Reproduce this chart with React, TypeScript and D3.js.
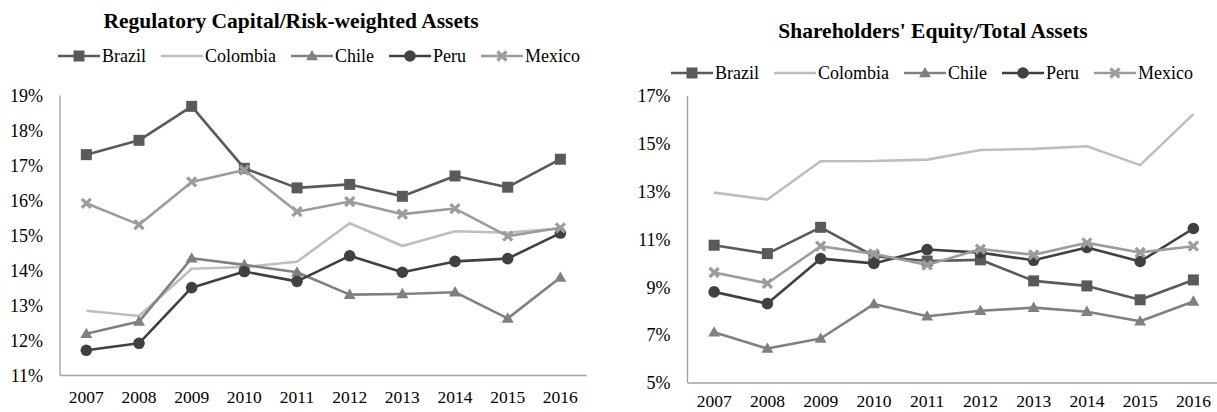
import * as d3 from "d3";
import { useEffect, useRef } from "react";

const years = ["2007", "2008", "2009", "2010", "2011", "2012", "2013", "2014", "2015", "2016"];
const countries = ["Brazil", "Colombia", "Chile", "Peru", "Mexico"];

// Regulatory Capital / Risk-weighted Assets (%)
const capBrazil = [17.31, 17.72, 18.69, 16.92, 16.36, 16.46, 16.12, 16.7, 16.38, 17.18];
const capColombia = [12.85, 12.7, 14.05, 14.1, 14.25, 15.35, 14.7, 15.12, 15.08, 15.2];
const capChile = [12.19, 12.54, 14.35, 14.16, 13.95, 13.31, 13.33, 13.38, 12.63, 13.8];
const capPeru = [11.72, 11.92, 13.51, 13.97, 13.69, 14.42, 13.95, 14.26, 14.34, 15.07];
const capMexico = [15.92, 15.31, 16.53, 16.87, 15.68, 15.97, 15.61, 15.77, 14.98, 15.22];
const capTicks = [11, 12, 13, 14, 15, 16, 17, 18, 19];

// Shareholders' Equity / Total Assets (%)
const eqBrazil = [10.76, 10.41, 11.51, 10.3, 10.1, 10.15, 9.27, 9.06, 8.48, 9.31];
const eqColombia = [12.96, 12.67, 14.27, 14.28, 14.34, 14.74, 14.79, 14.9, 14.11, 16.24];
const eqChile = [7.12, 6.44, 6.86, 8.3, 7.79, 8.02, 8.15, 7.98, 7.58, 8.41];
const eqPeru = [8.81, 8.32, 10.2, 10.0, 10.58, 10.45, 10.13, 10.67, 10.08, 11.46];
const eqMexico = [9.62, 9.17, 10.72, 10.4, 9.93, 10.6, 10.36, 10.86, 10.46, 10.72];
const eqTicks = [5, 7, 9, 11, 13, 15, 17];

const styles: Record<string, { color: string; marker: string }> = {
  Brazil: { color: "#5a5a5a", marker: "square" },
  Colombia: { color: "#bebebe", marker: "none" },
  Chile: { color: "#808080", marker: "triangle" },
  Peru: { color: "#404040", marker: "circle" },
  Mexico: { color: "#9c9c9c", marker: "x" },
};

const FONT = "'Liberation Serif', 'Times New Roman', serif";

function drawMarker(g: any, kind: string, color: string) {
  if (kind === "square") {
    g.append("rect").attr("x", -5.5).attr("y", -5.5).attr("width", 11).attr("height", 11).attr("fill", color);
  } else if (kind === "circle") {
    g.append("circle").attr("r", 5.8).attr("fill", color);
  } else if (kind === "triangle") {
    g.append("path")
      .attr("d", d3.symbol(d3.symbolTriangle, 62)())
      .attr("transform", "translate(0,0.8)")
      .attr("fill", color);
  } else if (kind === "x") {
    g.append("path")
      .attr("d", "M-4.5,-4.5L4.5,4.5M-4.5,4.5L4.5,-4.5")
      .attr("stroke", color)
      .attr("stroke-width", 3.2)
      .attr("fill", "none");
  }
}

interface PanelProps {
  title: string;
  titleX: number;
  titleY: number;
  legendX: number;
  legendY: number;
  xRange: [number, number];
  yDomain: [number, number];
  yRange: [number, number];
  ticks: number[];
  labelY: number;
  series: number[][];
}

function drawPanel(svg: any, p: PanelProps) {
  const g = svg.append("g");
  const x = d3.scaleBand<string>().domain(years).range(p.xRange);
  const y = d3.scaleLinear().domain(p.yDomain).range(p.yRange);
  const cx = (yr: string) => (x(yr) as number) + x.bandwidth() / 2;

  // title
  g.append("text")
    .attr("x", p.titleX)
    .attr("y", p.titleY)
    .attr("dy", "0.35em")
    .attr("text-anchor", "middle")
    .style("font-family", FONT)
    .style("font-size", "21.5px")
    .style("font-weight", "bold")
    .style("fill", "#000")
    .text(p.title);

  // axes
  const axisColor = "#a3a3a3";
  g.append("line")
    .attr("x1", p.xRange[0]).attr("x2", p.xRange[0])
    .attr("y1", y(p.yDomain[1])).attr("y2", y(p.yDomain[0]))
    .attr("stroke", axisColor).attr("stroke-width", 1.4);
  g.append("line")
    .attr("x1", p.xRange[0]).attr("x2", p.xRange[1])
    .attr("y1", y(p.yDomain[0])).attr("y2", y(p.yDomain[0]))
    .attr("stroke", axisColor).attr("stroke-width", 1.4);

  g.selectAll(".ytick")
    .data(p.ticks)
    .enter()
    .append("text")
    .attr("x", p.xRange[0] - 17)
    .attr("y", (d: number) => y(d))
    .attr("dy", "0.35em")
    .attr("text-anchor", "end")
    .style("font-family", FONT)
    .style("font-size", "18px")
    .style("fill", "#000")
    .text((d: number) => `${d}%`);

  g.selectAll(".xtick")
    .data(years)
    .enter()
    .append("text")
    .attr("x", (d: string) => cx(d))
    .attr("y", p.labelY)
    .attr("dy", "0.35em")
    .attr("text-anchor", "middle")
    .style("font-family", FONT)
    .style("font-size", "17.5px")
    .style("fill", "#000")
    .text((d: string) => d);

  // series
  const line = d3
    .line<number>()
    .x((_, i) => cx(years[i]))
    .y((d) => y(d));

  countries.forEach((c, ci) => {
    const st = styles[c];
    const vals = p.series[ci];
    g.append("path")
      .datum(vals)
      .attr("d", line)
      .attr("fill", "none")
      .attr("stroke", st.color)
      .attr("stroke-width", 2.6)
      .attr("stroke-linejoin", "round");
    vals.forEach((v, i) => {
      const m = g.append("g").attr("transform", `translate(${cx(years[i])},${y(v)})`);
      drawMarker(m, st.marker, st.color);
    });
  });

  // legend
  let lx = p.legendX;
  countries.forEach((c) => {
    const st = styles[c];
    const item = g.append("g").attr("transform", `translate(${lx},${p.legendY})`);
    item.append("line")
      .attr("x1", 0).attr("x2", 42).attr("y1", 0).attr("y2", 0)
      .attr("stroke", st.color).attr("stroke-width", 2.6);
    const m = item.append("g").attr("transform", "translate(21,0)");
    drawMarker(m, st.marker, st.color);
    const t = item.append("text")
      .attr("x", 44)
      .attr("y", 0)
      .attr("dy", "0.35em")
      .style("font-family", FONT)
      .style("font-size", "18px")
      .style("fill", "#000")
      .text(c);
    const w = (t.node() as SVGTextElement).getComputedTextLength();
    lx += 44 + w + 15;
  });
}

export default function App() {
  const svgRef = useRef<SVGSVGElement>(null);

  useEffect(() => {
    if (!svgRef.current) return;
    const svg = d3.select(svgRef.current);
    svg.selectAll("*").remove();

    drawPanel(svg, {
      title: "Regulatory Capital/Risk-weighted Assets",
      titleX: 291,
      titleY: 20,
      legendX: 58,
      legendY: 56,
      xRange: [60, 586.7],
      yDomain: [11, 19],
      yRange: [375.5, 95.5],
      ticks: capTicks,
      labelY: 397,
      series: [capBrazil, capColombia, capChile, capPeru, capMexico],
    });

    drawPanel(svg, {
      title: "Shareholders' Equity/Total Assets",
      titleX: 933,
      titleY: 30,
      legendX: 671,
      legendY: 73,
      xRange: [687.5, 1220],
      yDomain: [5, 17],
      yRange: [383, 96],
      ticks: eqTicks,
      labelY: 400.5,
      series: [eqBrazil, eqColombia, eqChile, eqPeru, eqMexico],
    });
  }, []);

  return (
    <svg
      ref={svgRef}
      width={1217}
      height={412}
      style={{ position: "absolute", left: 0, top: 0, background: "#fff" }}
    />
  );
}
